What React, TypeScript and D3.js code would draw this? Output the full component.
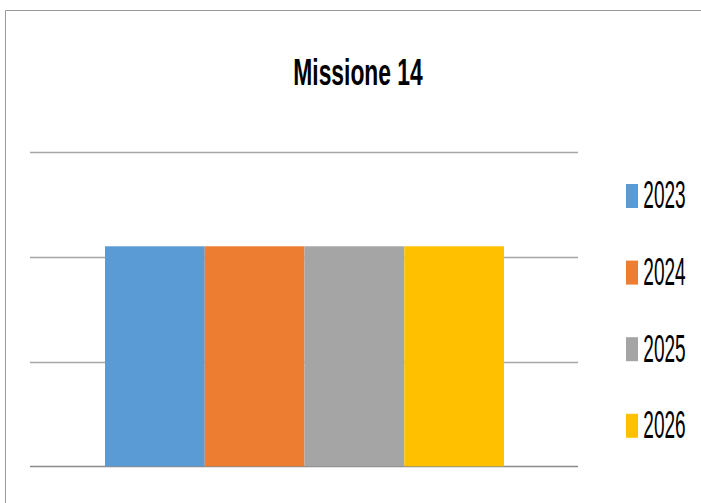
import React, { useLayoutEffect, useRef, useState } from "react";
import * as d3 from "d3";

const categories = ["2023", "2024", "2025", "2026"];
const values = [2.1, 2.1, 2.1, 2.1];
const colors = ["#5B9BD5", "#ED7D31", "#A5A5A5", "#FFC000"];
const yTicks = [0, 1, 2, 3];
const title = "Missione 14";

function FitText(props: { x: number; y: number; width: number; size: number; bold?: boolean; children: string }) {
  const ref = useRef<SVGTextElement>(null);
  const [sx, setSx] = useState(0.55);
  useLayoutEffect(() => {
    if (ref.current) {
      const w = ref.current.getComputedTextLength();
      if (w > 0) setSx(props.width / w);
    }
  }, [props.width, props.children]);
  return (
    <g transform={`translate(${props.x},${props.y}) scale(${sx},1)`}>
      <text ref={ref} x={0} y={0} fontFamily="'Liberation Sans', Arial, sans-serif"
        fontWeight={props.bold ? "bold" : "normal"} fontSize={props.size} fill="#000">{props.children}</text>
    </g>
  );
}

export default function App() {
  const W = 701, H = 503;
  const plotLeft = 30, plotRight = 578;
  const y = d3.scaleLinear().domain([0, 3]).range([466.3, 152]);
  const x = d3.scaleBand<string>().domain(categories).range([105, 504]).paddingInner(0).paddingOuter(0);
  const legendY = d3.scalePoint<string>().domain(categories).range([196, 425.8]);
  return (
    <svg width={W} height={H} style={{ position: "absolute", left: 0, top: 0, background: "#fff" }}>
      <rect x={0} y={0} width={W} height={H} fill="#fff" />
      <path d="M5.5,503 V10.5 H701" fill="none" stroke="#999" strokeWidth={1} />
      <FitText x={293.3} y={84.5} width={129.4} size={37} bold>{title}</FitText>
      {yTicks.map((t) => (
        <line key={t} x1={plotLeft} x2={plotRight} y1={Math.round(y(t)) + 0.5} y2={Math.round(y(t)) + 0.5}
          stroke={t === 0 ? "#8c8c8c" : "#a6a6a6"} strokeWidth={1.5} />
      ))}
      {categories.map((c, i) => (
        <rect key={c} x={x(c)} y={y(values[i])} width={x.bandwidth()} height={y(0) - y(values[i])} fill={colors[i]} />
      ))}
      {categories.map((c, i) => {
        const cy = legendY(c) as number;
        return (
          <g key={c}>
            <rect x={626} y={cy - 12} width={12} height={24} fill={colors[i]} />
            <FitText x={643.3} y={cy + 12.3} width={42.4} size={38}>{c}</FitText>
          </g>
        );
      })}
    </svg>
  );
}
